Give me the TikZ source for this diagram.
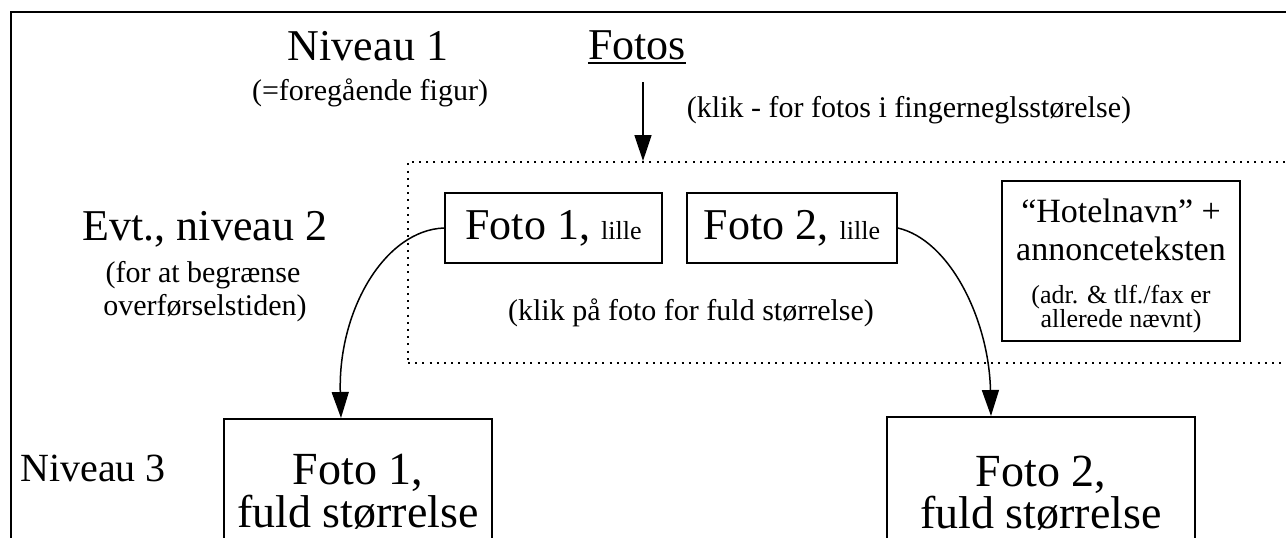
\documentclass[tikz,border=0pt]{standalone}
\usepackage{fontspec}
\setmainfont{Liberation Serif}
\usetikzlibrary{arrows.meta}
\begin{document}
\begin{tikzpicture}[x=1pt,y=-1pt,
  big/.style={font=\fontsize{44}{50}\selectfont, inner sep=0pt, anchor=base},
  bigger/.style={font=\fontsize{46}{52}\selectfont, inner sep=0pt, anchor=base},
  lvl/.style={font=\fontsize{40}{46}\selectfont, inner sep=0pt, anchor=base},
  mid/.style={font=\fontsize{34}{38}\selectfont, inner sep=0pt, anchor=base},
  med/.style={font=\fontsize{30}{34}\selectfont, inner sep=0pt, anchor=base},
  sml/.style={font=\fontsize{26}{30}\selectfont, inner sep=0pt, anchor=base},
  boxed/.style={draw, line width=1.6pt, inner sep=0pt},
  dotbox/.style={draw, line width=2pt, dash pattern=on 2pt off 5.2pt},
  frame/.style={draw, line width=2.8pt},
  arr/.style={line width=1.5pt, -{Triangle[length=26pt,width=17pt]}}
]
\useasboundingbox (0,0) rectangle (1286,538);
\clip (0,0) rectangle (1286,538);
\fill[white] (0,0) rectangle (1286,538);

% outer frame (cut off at right and bottom)
\draw[frame] (11,700) -- (11,12) -- (1400,12);

% level 1
\node[big] (n1) at (368,60) {Niveau 1};
\node[med] (n1s) at (370,100) {(=foregående figur)};
\node[big] (fotos) at (637,59) {Fotos};
\draw[line width=1.5pt] ([yshift=-4pt]fotos.base west) -- ([yshift=-4pt]fotos.base east);
\node[med] (klik1) at (909,117) {(klik - for fotos i fingerneglsstørelse)};

% level 2 group
\node[dotbox, anchor=north west, minimum width=950pt, minimum height=201pt, inner sep=0pt] (grp) at (407,161) {};
\coordinate (a0) at (643,82);
\draw[arr] (a0) -- (a0 |- grp.north);

\node[big] (n2) at (205,240) {Evt., niveau 2};
\node[med] (n2a) at (203,282) {(for at begrænse};
\node[med] (n2b) at (205,315) {overførselstiden)};

\node[boxed, minimum width=217pt, minimum height=70pt] (f1s) at (553.5,228)
  {\fontsize{44}{50}\selectfont Foto 1, {\fontsize{26}{30}\selectfont lille}};
\node[boxed, minimum width=210pt, minimum height=70pt] (f2s) at (792,228)
  {\fontsize{44}{50}\selectfont Foto 2, {\fontsize{26}{30}\selectfont lille}};
\node[med] (klik2) at (691,320) {(klik på foto for fuld størrelse)};

\node[boxed, minimum width=238pt, minimum height=160pt] (hotel) at (1121,261) {};
\node[mid] (h1) at (1121,222) {“Hotelnavn” +};
\node[mid] (h2) at (1121,260) {annonceteksten};
\node[sml] (h3) at (1121,303) {(adr. \& tlf./fax er};
\node[sml] (h4) at (1121,327) {allerede nævnt)};

% level 3
\node[lvl] (n3) at (93,481) {Niveau 3};
\node[boxed, anchor=north, minimum width=268pt, minimum height=200pt] (f1f) at (358,418) {};
\node[bigger] (f1a) at (358,484) {Foto 1,};
\node[bigger] (f1b) at (358,527) {fuld størrelse};
\node[boxed, anchor=north, minimum width=308pt, minimum height=200pt] (f2f) at (1041,416) {};
\node[bigger] (f2a) at (1041,486) {Foto 2,};
\node[bigger] (f2b) at (1041,528) {fuld størrelse};

% connectors
\draw[arr] (f1s.west) .. controls (385,230) and (338,310) .. (f1f.north -| 341,0);
\draw[arr] (f2s.east) .. controls (950,240) and (989,320) .. (f2f.north -| 991,0);
\end{tikzpicture}
\end{document}
